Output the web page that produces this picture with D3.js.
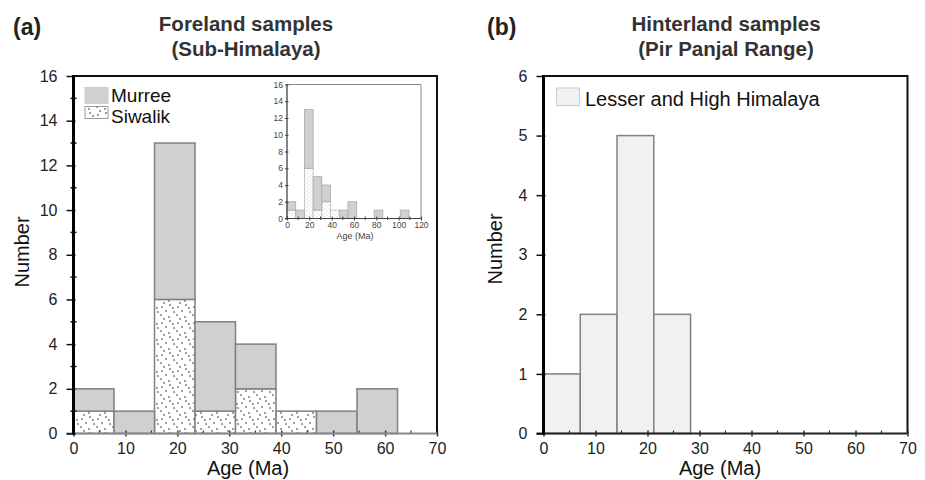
<!DOCTYPE html>
<html>
<head>
<meta charset="utf-8">
<script src="https://cdn.jsdelivr.net/npm/d3@7"></script>
<style>
  body { margin: 0; background: #fff; }
  svg { display: block; font-family: "Liberation Sans", Arial, sans-serif; }
</style>
</head>
<body>
<svg id="chart" width="925" height="480"></svg>
<script>
// ---------------- DATA ----------------
// Panel (a): Foreland samples, bin width ~7.8 Ma
const binWidthA = 7.8;
const murreeCounts  = [1, 1, 7, 4, 2, 0, 1, 2, 0, 0, 1, 0, 0, 1];
const siwalikCounts = [1, 0, 6, 1, 2, 1, 0, 0, 0, 0, 0, 0, 0, 0];
const legendA = ["Murree", "Siwalik"];
const yTicksA = [0, 2, 4, 6, 8, 10, 12, 14, 16];
const xTicks = [0, 10, 20, 30, 40, 50, 60, 70];
const insetXTicks = [0, 20, 40, 60, 80, 100, 120];
const insetYTicks = [0, 2, 4, 6, 8, 10, 12, 14, 16];

// Panel (b): Hinterland samples, bin width ~7.07 Ma
const binWidthB = 7.07;
const hinterlandCounts = [1, 2, 5, 2];
const legendB = ["Lesser and High Himalaya"];
const yTicksB = [0, 1, 2, 3, 4, 5, 6];

// ---------------- SETUP ----------------
const svg = d3.select("#chart");
const defs = svg.append("defs");

function makeDots(id, size, pts, r, color) {
  const p = defs.append("pattern").attr("id", id)
    .attr("patternUnits", "userSpaceOnUse").attr("width", size).attr("height", size);
  p.append("rect").attr("width", size).attr("height", size).attr("fill", "#fff");
  pts.forEach(([x, y]) => p.append("circle").attr("cx", x).attr("cy", y).attr("r", r).attr("fill", color));
}
makeDots("dots", 16, [[2,3],[10,1],[6,7],[14,8],[1,11],[9,13],[4,15],[13,4]], 0.75, "#111");
makeDots("dotsSmall", 4, [[1,1],[3,3]], 0.45, "#999");

const stackedA = murreeCounts.map((m, i) => ({
  x0: i * binWidthA, x1: (i + 1) * binWidthA, s: siwalikCounts[i], m: m
}));

// ---------- PANEL (a) ----------
const xA = d3.scaleLinear().domain([0, 70]).range([73.5, 437]);
const yA = d3.scaleLinear().domain([0, 16]).range([433.5, 76]);
const gA = svg.append("g");

const barsA = stackedA.filter(d => d.x0 < 70);
gA.selectAll("rect.siw").data(barsA.filter(d => d.s > 0)).join("rect")
  .attr("x", d => xA(d.x0)).attr("width", d => xA(d.x1) - xA(d.x0))
  .attr("y", d => yA(d.s)).attr("height", d => yA(0) - yA(d.s))
  .attr("fill", "url(#dots)").attr("stroke", "#808080").attr("stroke-width", 1.5);
gA.selectAll("rect.mur").data(barsA.filter(d => d.m > 0)).join("rect")
  .attr("x", d => xA(d.x0)).attr("width", d => xA(d.x1) - xA(d.x0))
  .attr("y", d => yA(d.s + d.m)).attr("height", d => yA(d.s) - yA(d.s + d.m))
  .attr("fill", "#d0d0d0").attr("stroke", "#808080").attr("stroke-width", 1.5);

gA.append("path").attr("d", `M${xA(0)},${yA(16)}H${xA(70)}V${yA(0)}`)
  .attr("fill", "none").attr("stroke", "#111").attr("stroke-width", 2);

function drawAxes(g, x, y, yMajor, yMinor, bottomColor, tickFont) {
  const ax = g.append("g").attr("transform", `translate(0,${y.range()[0]})`)
    .call(d3.axisBottom(x).tickValues(xTicks).tickSize(3).tickFormat(d3.format("d")));
  ax.select(".domain").remove();
  ax.selectAll(".tick line").attr("y1", -3).attr("y2", 3).attr("stroke", "#333").attr("stroke-width", 1.5);
  ax.selectAll(".tick text").attr("y", 9).attr("font-size", tickFont).attr("fill", "#222");
  const minorX = d3.range(5, 70, 10);
  g.selectAll(null).data(minorX).join("line")
    .attr("x1", d => x(d)).attr("x2", d => x(d))
    .attr("y1", y.range()[0] - 3).attr("y2", y.range()[0])
    .attr("stroke", "#333").attr("stroke-width", 1.2);
  g.append("line").attr("x1", x.range()[0] - 7).attr("x2", x.range()[1])
    .attr("y1", y.range()[0]).attr("y2", y.range()[0])
    .attr("stroke", bottomColor).attr("stroke-width", 2);
  const ay = g.append("g").attr("transform", `translate(${x.range()[0]},0)`)
    .call(d3.axisLeft(y).tickValues(yMajor).tickSize(7).tickFormat(d3.format("d")));
  ay.select(".domain").remove();
  ay.selectAll(".tick line").attr("x1", -7).attr("x2", 2).attr("stroke", "#111").attr("stroke-width", 1.5);
  ay.selectAll(".tick text").attr("x", -16).attr("font-size", tickFont).attr("fill", "#222");
  g.selectAll(null).data(yMinor).join("line")
    .attr("x1", x.range()[0] - 3).attr("x2", x.range()[0] + 3)
    .attr("y1", d => y(d)).attr("y2", d => y(d))
    .attr("stroke", "#111").attr("stroke-width", 1.5);
  g.append("line").attr("x1", x.range()[0]).attr("x2", x.range()[0])
    .attr("y1", y.range()[1] - 1).attr("y2", y.range()[0] + 1)
    .attr("stroke", "#000").attr("stroke-width", 3);
}
drawAxes(gA, xA, yA, yTicksA, d3.range(1, 16, 2), "#888", 16);

// legend (a)
const legAFill = ["#d0d0d0", "url(#dots)"];
const legA = gA.append("g");
legA.selectAll("rect").data(legendA).join("rect")
  .attr("x", 85).attr("y", (d, i) => i === 0 ? 87.5 : 106.5)
  .attr("width", 23).attr("height", (d, i) => i === 0 ? 16 : 12)
  .attr("fill", (d, i) => legAFill[i]).attr("stroke", (d, i) => i === 0 ? "#ccc" : "#999").attr("stroke-width", 1);
legA.selectAll("text").data(legendA).join("text")
  .attr("x", 111).attr("y", (d, i) => i === 0 ? 101.5 : 122.5)
  .attr("font-size", 19).attr("fill", "#111").text(d => d);

// titles (a)
svg.append("text").attr("x", 13).attr("y", 35).attr("font-size", 23).attr("font-weight", "bold").attr("fill", "#222").text("(a)");
svg.append("text").attr("x", 246).attr("y", 31).attr("text-anchor", "middle").attr("font-size", 20.5).attr("font-weight", "bold").attr("fill", "#333").text("Foreland samples");
svg.append("text").attr("x", 246).attr("y", 56).attr("text-anchor", "middle").attr("font-size", 20.5).attr("font-weight", "bold").attr("fill", "#333").text("(Sub-Himalaya)");
svg.append("text").attr("transform", "translate(29,252) rotate(-90)").attr("text-anchor", "middle").attr("font-size", 20).attr("fill", "#111").text("Number");
svg.append("text").attr("x", 248).attr("y", 475).attr("text-anchor", "middle").attr("font-size", 20).attr("fill", "#111").text("Age (Ma)");

// ---------- INSET ----------
const xI = d3.scaleLinear().domain([0, 120]).range([287, 421]);
const yI = d3.scaleLinear().domain([0, 16]).range([218.5, 84.5]);
const gI = svg.append("g");
gI.selectAll("rect.siw").data(stackedA.filter(d => d.s > 0)).join("rect")
  .attr("x", d => xI(d.x0)).attr("width", d => xI(d.x1) - xI(d.x0))
  .attr("y", d => yI(d.s)).attr("height", d => yI(0) - yI(d.s))
  .attr("fill", "url(#dotsSmall)").attr("stroke", "#bbb").attr("stroke-width", 0.8);
gI.selectAll("rect.mur").data(stackedA.filter(d => d.m > 0)).join("rect")
  .attr("x", d => xI(d.x0)).attr("width", d => xI(d.x1) - xI(d.x0))
  .attr("y", d => yI(d.s + d.m)).attr("height", d => yI(d.s) - yI(d.s + d.m))
  .attr("fill", "#d0d0d0").attr("stroke", "#aaa").attr("stroke-width", 0.8);
gI.append("path").attr("d", `M${xI(0)},${yI(16)}H${xI(120)}V${yI(0)}`)
  .attr("fill", "none").attr("stroke", "#888").attr("stroke-width", 1);
const axI = gI.append("g").attr("transform", `translate(0,${yI(0)})`)
  .call(d3.axisBottom(xI).tickValues(insetXTicks).tickSize(2).tickFormat(d3.format("d")));
axI.select(".domain").remove();
axI.selectAll(".tick line").attr("y1", -2).attr("y2", 2).attr("stroke", "#444");
axI.selectAll(".tick text").attr("y", 3).attr("font-size", 8.5).attr("fill", "#444");
gI.selectAll(null).data(d3.range(10, 120, 20)).join("line")
  .attr("x1", d => xI(d)).attr("x2", d => xI(d)).attr("y1", yI(0) - 2).attr("y2", yI(0) + 1.5)
  .attr("stroke", "#444");
gI.append("line").attr("x1", xI(0) - 2).attr("x2", xI(120)).attr("y1", yI(0)).attr("y2", yI(0)).attr("stroke", "#444").attr("stroke-width", 1.2);
const ayI = gI.append("g").attr("transform", `translate(${xI(0)},0)`)
  .call(d3.axisLeft(yI).tickValues(insetYTicks).tickSize(2).tickFormat(d3.format("d")));
ayI.select(".domain").remove();
ayI.selectAll(".tick line").attr("x1", -2).attr("x2", 1.5).attr("stroke", "#444");
ayI.selectAll(".tick text").attr("x", -4).attr("font-size", 8.5).attr("fill", "#444");
gI.append("line").attr("x1", xI(0)).attr("x2", xI(0)).attr("y1", yI(16)).attr("y2", yI(0)).attr("stroke", "#333").attr("stroke-width", 1.2);
defs.append("clipPath").attr("id", "insetClip").append("rect").attr("x", 272.5).attr("y", 80).attr("width", 60).attr("height", 150);
gI.append("text").attr("clip-path", "url(#insetClip)")
  .attr("transform", "translate(278,151) rotate(-90)").attr("text-anchor", "middle")
  .attr("font-size", 9).attr("fill", "#444").text("Number");
gI.append("text").attr("x", 355).attr("y", 239).attr("text-anchor", "middle").attr("font-size", 9).attr("fill", "#444").text("Age (Ma)");

// ---------- PANEL (b) ----------
const xB = d3.scaleLinear().domain([0, 70]).range([543.5, 907.5]);
const yB = d3.scaleLinear().domain([0, 6]).range([433.5, 76]);
const gB = svg.append("g");
gB.selectAll("rect").data(hinterlandCounts).join("rect")
  .attr("x", (d, i) => xB(i * binWidthB)).attr("width", xB(binWidthB) - xB(0))
  .attr("y", d => yB(d)).attr("height", d => yB(0) - yB(d))
  .attr("fill", "#f1f1f1").attr("stroke", "#808080").attr("stroke-width", 1.5);
gB.append("path").attr("d", `M${xB(0)},${yB(6)}H${xB(70)}V${yB(0)}`)
  .attr("fill", "none").attr("stroke", "#111").attr("stroke-width", 2);
drawAxes(gB, xB, yB, yTicksB, [], "#222", 16);

gB.selectAll("rect.leg").data(legendB).join("rect").attr("class", "leg")
  .attr("x", 556.5).attr("y", 88).attr("width", 23).attr("height", 17.5)
  .attr("fill", "#f1f1f1").attr("stroke", "#ccc").attr("stroke-width", 1);
gB.selectAll("text.leg").data(legendB).join("text").attr("class", "leg")
  .attr("x", 585).attr("y", 106).attr("font-size", 20).attr("fill", "#111").text(d => d);

svg.append("text").attr("x", 487).attr("y", 35).attr("font-size", 23).attr("font-weight", "bold").attr("fill", "#222").text("(b)");
svg.append("text").attr("x", 726).attr("y", 31).attr("text-anchor", "middle").attr("font-size", 20.5).attr("font-weight", "bold").attr("fill", "#333").text("Hinterland samples");
svg.append("text").attr("x", 726).attr("y", 56).attr("text-anchor", "middle").attr("font-size", 20.5).attr("font-weight", "bold").attr("fill", "#333").text("(Pir Panjal Range)");
svg.append("text").attr("transform", "translate(502,249) rotate(-90)").attr("text-anchor", "middle").attr("font-size", 20).attr("fill", "#111").text("Number");
svg.append("text").attr("x", 720).attr("y", 475).attr("text-anchor", "middle").attr("font-size", 20).attr("fill", "#111").text("Age (Ma)");
</script>
</body>
</html>
